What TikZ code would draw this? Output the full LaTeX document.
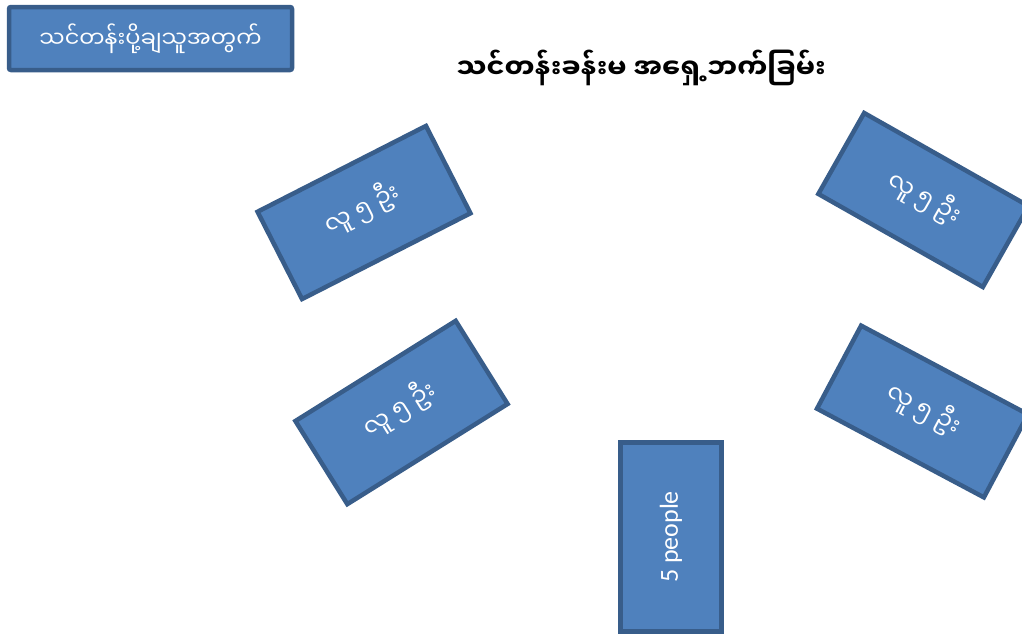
\documentclass[tikz,border=0pt]{standalone}
\usepackage{fontspec}
\setmainfont{Carlito}
\newfontfamily\myan[Script=Myanmar]{Noto Sans Myanmar UI}
\usetikzlibrary{positioning}
\definecolor{boxfill}{HTML}{4F81BD}
\definecolor{boxline}{HTML}{385D8A}

\begin{document}
\begin{tikzpicture}[x=1pt,y=-1pt,
  box node/.style={shape=rectangle,fill=boxfill,draw=boxline,line width=4.5pt,text=white,inner sep=0,align=center},
  seat node/.style={box node,minimum width=189pt,minimum height=98pt,font=\myan\fontsize{24}{28}\selectfont},
  title node/.style={font=\myan\bfseries\fontsize{27}{32}\selectfont,text=black,inner sep=0}]
		\useasboundingbox (0,0) rectangle (1022,637);
		%instructor box + title
		\node[box node,rounded corners=2pt,minimum width=283pt,minimum height=63pt,font=\myan\fontsize{22.5}{26}\selectfont] (teacher) at (150.5,38.5){သင်တန်းပို့ချသူအတွက်};
		\node[title node] (title) at (641,68){သင်တန်းခန်းမ အရှေ့ဘက်ခြမ်း};
		%seat groups
		\node[seat node,rotate=27] (seat1) at (364,212.5){\raisebox{15pt}{လူ ၅ ဦး}};
		\node[seat node,rotate=32] (seat2) at (401.5,412.5){\raisebox{15pt}{လူ ၅ ဦး}};
		\node[seat node,rotate=-29.5,minimum height=93pt] (seat3) at (923.5,200){\raisebox{12pt}{လူ ၅ ဦး}};
		\node[seat node,rotate=-28,minimum height=94pt] (seat4) at (922.5,411.5){\raisebox{12pt}{လူ ၅ ဦး}};
		\node[box node,minimum width=101pt,minimum height=189pt] (seat5) at (671,537){};
		\node[rotate=90,text=white,font=\fontsize{26}{30}\selectfont] (people) at (seat5.center){5 people};
\end{tikzpicture}
\end{document}
